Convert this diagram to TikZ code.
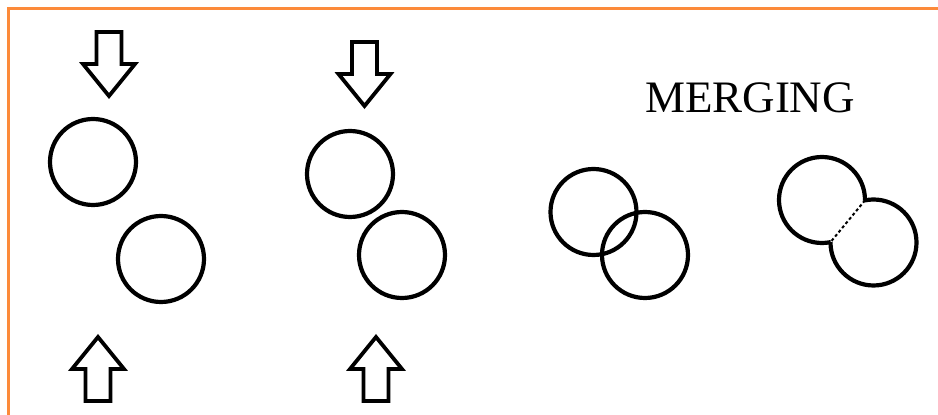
\documentclass[tikz,border=0pt]{standalone}
\usepackage{fontspec}
\setmainfont{Liberation Serif}
\usetikzlibrary{intersections}
\definecolor{frameorange}{RGB}{252,138,58}
\tikzset{
  ringline/.style={draw=black, line width=4.2pt},
  arrowline/.style={draw=black, line width=3.8pt, fill=white, line join=miter},
  fatarrow/.pic={
    \path[arrowline] (0,0) -- (-26,32) -- (-12.5,32) -- (-12.5,64) -- (12.5,64) -- (12.5,32) -- (26,32) -- cycle;
  },
  framestyle/.style={draw=frameorange, line width=3.6pt},
  labelstyle/.style={font=\fontsize{45}{45}\selectfont, inner sep=0pt, anchor=base}
}
\begin{document}
\begin{tikzpicture}[x=1pt, y=1pt]
\useasboundingbox (0,0) rectangle (938,415);
% frame
\coordinate (fb) at (8.5,0);
\coordinate (fc) at (8.5,406.5);
\coordinate (fr) at (938,406.5);
\draw[framestyle] (fb) -- (fc) -- (fr);

% arrows
\pic (d1) at (109,319) {fatarrow};
\pic (d2) at (364.5,309) {fatarrow};
\pic[rotate=180] (u1) at (98,78) {fatarrow};
\pic[rotate=180] (u2) at (376,78) {fatarrow};

% group 1
\node[circle, ringline, minimum size=86pt, inner sep=0pt] (c1) at (93,253) {};
\node[circle, ringline, minimum size=86pt, inner sep=0pt] (c2) at (161,156) {};
% group 2
\node[circle, ringline, minimum size=86pt, inner sep=0pt] (c3) at (350,241) {};
\node[circle, ringline, minimum size=86pt, inner sep=0pt] (c4) at (402,160) {};
% group 3
\node[circle, ringline, minimum size=86pt, inner sep=0pt] (c5) at (593.5,203) {};
\node[circle, ringline, minimum size=86pt, inner sep=0pt] (c6) at (645,160) {};

% group 4: merging
\coordinate (m1) at (822,215);
\coordinate (m2) at (873.5,172.5);
\path[name path=pm1] (m1) circle[radius=43];
\path[name path=pm2] (m2) circle[radius=43];
\begin{scope}[even odd rule]
  \clip (700,100) rectangle (938,300) (m2) circle[radius=43];
  \draw[ringline] (m1) circle[radius=43];
\end{scope}
\begin{scope}[even odd rule]
  \clip (700,100) rectangle (938,300) (m1) circle[radius=43];
  \draw[ringline] (m2) circle[radius=43];
\end{scope}
\path[name intersections={of=pm1 and pm2, by={p1,p2}}];
\draw[black, line width=2pt, dash pattern=on 3pt off 2.5pt] (p1) -- (p2);

\node[labelstyle] (lbl) at (750,302) {MERGING};
\end{tikzpicture}
\end{document}
